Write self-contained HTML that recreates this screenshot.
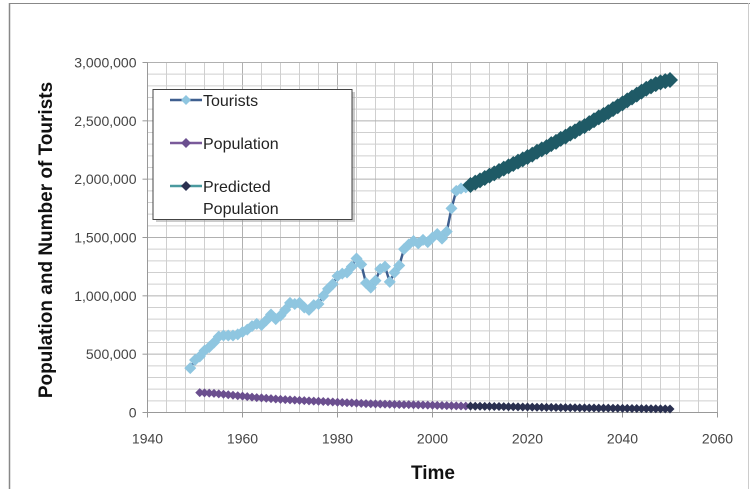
<!DOCTYPE html>
<html><head><meta charset="utf-8"><style>
body{margin:0;background:#fff;}
svg{display:block;font-family:"Liberation Sans",sans-serif;}
</style></head><body>
<svg id="chart" width="750" height="489" viewBox="0 0 750 489" xmlns="http://www.w3.org/2000/svg">
<rect x="0" y="0" width="750" height="489" fill="#fff"/>
<line x1="9" y1="3.5" x2="750" y2="3.5" stroke="#888" stroke-width="1"/>
<line x1="9.5" y1="3" x2="9.5" y2="489" stroke="#888" stroke-width="1.5"/>
<line x1="748.5" y1="3" x2="748.5" y2="489" stroke="#ccc" stroke-width="1"/>
<g id="grid"></g>
<g id="axes"></g>
<g id="series"></g>
<text transform="translate(52,240) rotate(-90)" text-anchor="middle" font-size="19" font-weight="bold" fill="#111">Population and Number of Tourists</text>
<text x="433" y="479" text-anchor="middle" font-size="19" font-weight="bold" fill="#111">Time</text>
<g>
<rect x="156" y="92" width="199" height="130" fill="#999" opacity="0.5"/>
<rect x="153" y="89.5" width="199" height="130" fill="#fff" stroke="#444" stroke-width="1"/>
<g>
<line x1="170" y1="100" x2="202" y2="100" stroke="#3f5f8f" stroke-width="2.5"/>
<path d="M186 95 L191 100 L186 105 L181 100Z" fill="#8fc6e0"/>
<text x="203" y="106" font-size="16" fill="#222">Tourists</text></g>
<g>
<line x1="170" y1="143" x2="202" y2="143" stroke="#7a5a9a" stroke-width="2.5"/>
<path d="M186 138 L191 143 L186 148 L181 143Z" fill="#6b4f8f"/>
<text x="203" y="149" font-size="16" fill="#222">Population</text></g>
<g>
<line x1="170" y1="186" x2="202" y2="186" stroke="#4a9a9f" stroke-width="2.5"/>
<path d="M186 181 L191 186 L186 191 L181 186Z" fill="#2a3050"/>
<text x="203" y="192" font-size="16" fill="#222">Predicted</text>
<text x="203" y="214" font-size="16" fill="#222">Population</text></g>
</g>
</svg>
<script>
const touristYears=[1949,1950,1951,1952,1953,1954,1955,1956,1957,1958,1959,1960,1961,1962,1963,1964,1965,1966,1967,1968,1969,1970,1971,1972,1973,1974,1975,1976,1977,1978,1979,1980,1981,1982,1983,1984,1985,1986,1987,1988,1989,1990,1991,1992,1993,1994,1995,1996,1997,1998,1999,2000,2001,2002,2003,2004,2005,2006,2007];
const touristValues=[380000,450000,480000,530000,560000,600000,650000,660000,660000,660000,670000,690000,710000,740000,760000,750000,790000,840000,800000,830000,880000,940000,930000,940000,900000,880000,920000,930000,1000000,1060000,1100000,1170000,1190000,1200000,1250000,1320000,1270000,1110000,1070000,1130000,1230000,1250000,1120000,1200000,1260000,1400000,1440000,1470000,1450000,1480000,1460000,1500000,1530000,1490000,1550000,1750000,1900000,1920000,1930000];
const popYears=[1951,1952,1953,1954,1955,1956,1957,1958,1959,1960,1961,1962,1963,1964,1965,1966,1967,1968,1969,1970,1971,1972,1973,1974,1975,1976,1977,1978,1979,1980,1981,1982,1983,1984,1985,1986,1987,1988,1989,1990,1991,1992,1993,1994,1995,1996,1997,1998,1999,2000,2001,2002,2003,2004,2005,2006,2007];
const popValues=[170000,168000,166000,164000,160000,156000,152000,148000,144000,140000,136000,132000,128000,125000,122000,119000,116000,113000,110000,108000,106000,104000,102000,100000,98000,96000,94000,92000,90000,88000,86000,84000,82000,80000,78000,76000,75000,74000,73000,72000,71000,70000,69000,68000,67000,66000,65000,64000,63000,62000,61000,60000,59000,58000,57000,56000,55000];
const predYears=[2008,2009,2010,2011,2012,2013,2014,2015,2016,2017,2018,2019,2020,2021,2022,2023,2024,2025,2026,2027,2028,2029,2030,2031,2032,2033,2034,2035,2036,2037,2038,2039,2040,2041,2042,2043,2044,2045,2046,2047,2048,2049,2050];
const predUpperValues=[1950000,1970000,1990000,2010000,2030000,2050000,2070000,2090000,2110000,2130000,2150000,2170000,2190000,2210000,2235000,2255000,2275000,2300000,2320000,2345000,2365000,2390000,2410000,2435000,2455000,2480000,2505000,2530000,2550000,2575000,2600000,2625000,2650000,2675000,2700000,2725000,2750000,2775000,2795000,2815000,2830000,2840000,2850000];
const predPopValues=[55000,54000,53500,53000,52000,51500,51000,50000,49500,49000,48000,47500,47000,46000,45500,45000,44000,43500,43000,42000,41500,41000,40500,40000,39500,39000,38500,38000,37500,37000,36500,36000,35500,35000,34500,34000,33500,33000,32500,32000,31500,31000,30500];
const xTicks=[1940,1960,1980,2000,2020,2040,2060];
const yTicks=[0,500000,1000000,1500000,2000000,2500000,3000000];
const yTickLabels=["0","500,000","1,000,000","1,500,000","2,000,000","2,500,000","3,000,000"];

const NS="http://www.w3.org/2000/svg";
const X0=147.5,X1=717.5,Y0=412.5,Y1=62.5;
function sx(v){return X0+(v-1940)/120*(X1-X0);}
function sy(v){return Y0-(v/3000000)*(Y0-Y1);}
function mk(tag,attrs,parent){const e=document.createElementNS(NS,tag);for(const k in attrs)e.setAttribute(k,attrs[k]);parent.appendChild(e);return e;}
const grid=document.getElementById('grid'),axes=document.getElementById('axes'),series=document.getElementById('series');
for(let y=1940;y<=2060;y+=4){const l=mk('line',{x1:sx(y),x2:sx(y),y1:Y1,y2:Y0,stroke:(y-1940)%20===0?'#b0b0b0':'#cfcfcf','stroke-width':1},grid);

}
for(let v=0;v<=3000000;v+=100000){const l=mk('line',{x1:X0,x2:X1,y1:sy(v),y2:sy(v),stroke:v%500000===0?'#b0b0b0':'#cfcfcf','stroke-width':1},grid);

}
mk('line',{x1:X0,x2:X0,y1:Y1,y2:Y0+5,stroke:'#999'},axes);
mk('line',{x1:X0-5,x2:X1,y1:Y0,y2:Y0,stroke:'#999'},axes);
xTicks.forEach(t=>{mk('line',{x1:sx(t),x2:sx(t),y1:Y0,y2:Y0+5,stroke:'#999'},axes);
const tx=mk('text',{x:sx(t),y:Y0+31,'text-anchor':'middle','font-size':14,fill:'#444'},axes);tx.textContent=t;

});
yTicks.forEach((t,i)=>{mk('line',{x1:X0-5,x2:X0,y1:sy(t),y2:sy(t),stroke:'#999'},axes);
const tx=mk('text',{x:X0-11,y:sy(t)+5,'text-anchor':'end','font-size':14,fill:'#444'},axes);tx.textContent=yTickLabels[i];

});
function drawSeries(xs,vs,lineColor,fill,r,name,lw){
const g=mk('g',{},series);


mk('polyline',{points:xs.map((x,i)=>sx(x)+','+sy(vs[i])).join(' '),fill:'none',stroke:lineColor,'stroke-width':lw||2.5},g);
xs.forEach((x,i)=>{const cx=sx(x),cy=sy(vs[i]);const p=mk('path',{d:`M${cx} ${cy-r} L${cx+r} ${cy} L${cx} ${cy+r} L${cx-r} ${cy}Z`,fill:fill},g);

});}
drawSeries(touristYears,touristValues,'#3f5f8f','#8fc6e0',6,'tourists-series');
drawSeries(popYears,popValues,'#7a5a9a','#6b4f8f',4.5,'population-series');
drawSeries(predYears,predUpperValues,'#1f5a66','#1f5a66',8,'predicted-upper-series',4);
drawSeries(predYears,predPopValues,'#4a9a9f','#2a3050',4.5,'predicted-population-series');
</script>
</body></html>
